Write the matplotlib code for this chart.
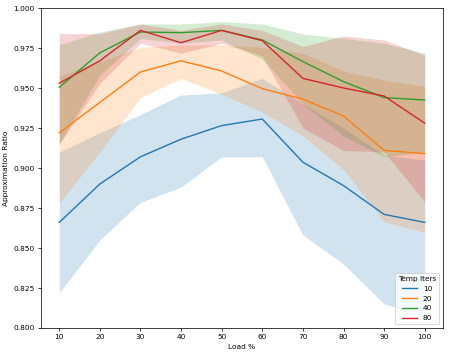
import numpy as np
import matplotlib.pyplot as plt

# Load levels
load = [10, 20, 30, 40, 50, 60, 70, 80, 90, 100]
temp_iters = ['10', '20', '40', '80']

# mean approximation ratio per temp iters
mean_10 = [0.866, 0.890, 0.907, 0.918, 0.9265, 0.9306, 0.9036, 0.889, 0.871, 0.866]
mean_20 = [0.922, 0.941, 0.960, 0.967, 0.9606, 0.9496, 0.943, 0.9325, 0.911, 0.909]
mean_40 = [0.9504, 0.972, 0.985, 0.9846, 0.986, 0.980, 0.9665, 0.954, 0.944, 0.9425]
mean_80 = [0.953, 0.967, 0.986, 0.9783, 0.986, 0.9796, 0.956, 0.950, 0.945, 0.928]

# band bounds
low_10 = [0.822, 0.855, 0.8786, 0.888, 0.907, 0.907, 0.858, 0.840, 0.815, 0.808]
high_10 = [0.910, 0.922, 0.9335, 0.9456, 0.947, 0.956, 0.940, 0.925, 0.908, 0.905]
low_20 = [0.878, 0.910, 0.944, 0.956, 0.946, 0.935, 0.920, 0.899, 0.8665, 0.8596]
high_20 = [0.9575, 0.9665, 0.9754, 0.977, 0.977, 0.9754, 0.9717, 0.9606, 0.955, 0.951]
low_40 = [0.915, 0.958, 0.981, 0.978, 0.980, 0.968, 0.940, 0.920, 0.907, 0.910]
high_40 = [0.977, 0.985, 0.990, 0.990, 0.9915, 0.990, 0.9838, 0.981, 0.978, 0.9717]
low_80 = [0.915, 0.953, 0.978, 0.9717, 0.978, 0.970, 0.925, 0.911, 0.910, 0.879]
high_80 = [0.984, 0.984, 0.990, 0.986, 0.990, 0.986, 0.976, 0.9825, 0.980, 0.9706]

means = [mean_10, mean_20, mean_40, mean_80]
lows = [low_10, low_20, low_40, low_80]
highs = [high_10, high_20, high_40, high_80]
colors = ['#1f77b4', '#ff7f0e', '#2ca02c', '#d62728']

plt.rcParams['font.size'] = 8
fig = plt.figure(figsize=(6.735, 5.34), dpi=66.67)
ax = fig.add_axes([0.0913, 0.0787, 0.8953, 0.8988])

for name, m, lo, hi, c in zip(temp_iters, means, lows, highs, colors):
    ax.fill_between(load, lo, hi, color=c, alpha=0.2, linewidth=0)
    ax.plot(load, m, color=c, linewidth=1.5, label=name)

ax.set_ylim(0.8, 1.0)
ax.set_xticks(load)
ax.set_xlabel('Load %')
ax.set_ylabel('Approximation Ratio')
ax.legend(title='Temp Iters', loc='lower right')

fig.savefig('out.png', dpi=66.67)
